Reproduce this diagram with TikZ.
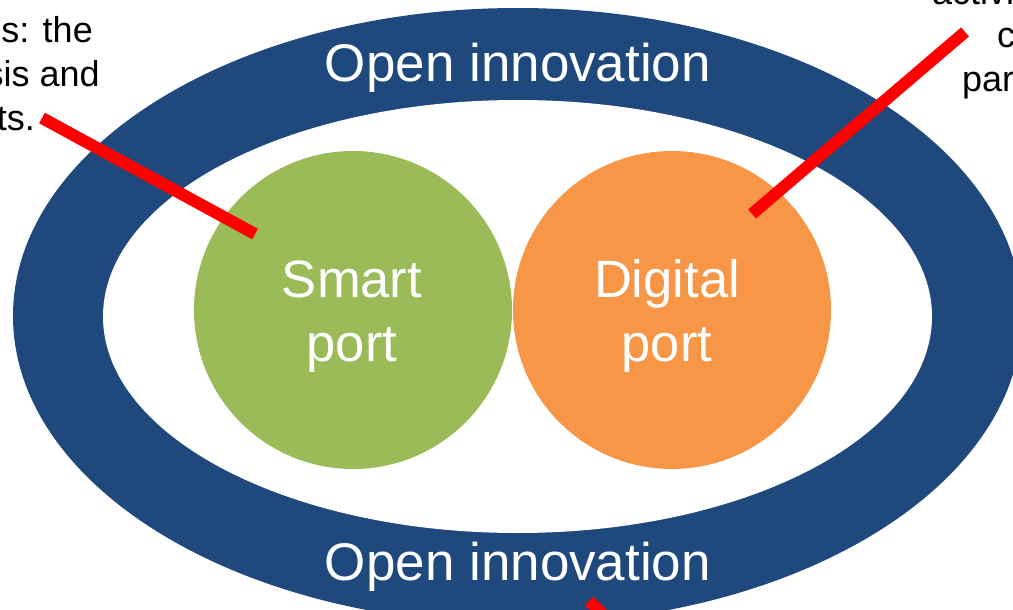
\documentclass[tikz,border=0pt]{standalone}
\usepackage{fontspec}
\setmainfont{Liberation Sans}
\usetikzlibrary{shapes.geometric}
\definecolor{ringblue}{RGB}{31,73,125}
\definecolor{smartgreen}{RGB}{155,187,89}
\definecolor{digitalorange}{RGB}{247,150,70}
\tikzset{
  ringshape/.style={ellipse, fill=ringblue, inner sep=0pt},
  holeshape/.style={ellipse, fill=white, inner sep=0pt},
  disc/.style={circle, inner sep=0pt, minimum size=318pt},
  bigtext/.style={text=white, font=\fontsize{53}{64}\selectfont, inner sep=0pt},
  circtext/.style={text=white, align=center, font=\fontsize{52.5}{64}\selectfont, inner sep=0pt},
  note/.style={text=black, font=\fontsize{36}{43.5}\selectfont, inner sep=0pt},
  pointer/.style={draw=red, line width=12pt}
}
\begin{document}
\begin{tikzpicture}[x=1pt,y=1pt]
\useasboundingbox (0,0) rectangle (1013,-610);
% ring
\node[ringshape, minimum width=1009pt, minimum height=616pt] (outer) at (517.5,-316) {};
\node[holeshape, minimum width=829pt, minimum height=433pt] (inner) at (517.5,-316.5) {};
% ring labels
\node[bigtext, anchor=base] (toplabel) at (518,-82) {Open innovation};
\node[bigtext, anchor=base] (bottomlabel) at (518,-580) {Open innovation};
% discs
\node[disc, fill=smartgreen] (smart) at (353,-310) {};
\node[disc, fill=digitalorange] (digital) at (672,-310) {};
\node[circtext] (smarttext) at (352,-316.4) {Smart\\port};
\node[circtext] (digitaltext) at (667,-316) {Digital\\port};
% cut-off notes, left
\node[note, anchor=base east] (l1) at (93,-43) {es: the};
\node[note, anchor=base east] (l2) at (100,-87) {sis and};
\node[note, anchor=base east] (l3) at (35,-130) {ts.};
% cut-off notes, right
\node[note, anchor=base west] (r1) at (932,-5) {activi};
\node[note, anchor=base west] (r2) at (997,-48) {c};
\node[note, anchor=base west] (r3) at (962,-92) {par};
% pointers
\coordinate (lstart) at (42,-118);
\coordinate (lend) at (255,-234);
\coordinate (rstart) at (965,-32);
\coordinate (rend) at (752,-214);
\coordinate (bstart) at (589,-601);
\coordinate (bend) at (650,-660);
\draw[pointer] (lstart) -- (lend);
\draw[pointer] (rstart) -- (rend);
\draw[pointer] (bstart) -- (bend);
\end{tikzpicture}
\end{document}
